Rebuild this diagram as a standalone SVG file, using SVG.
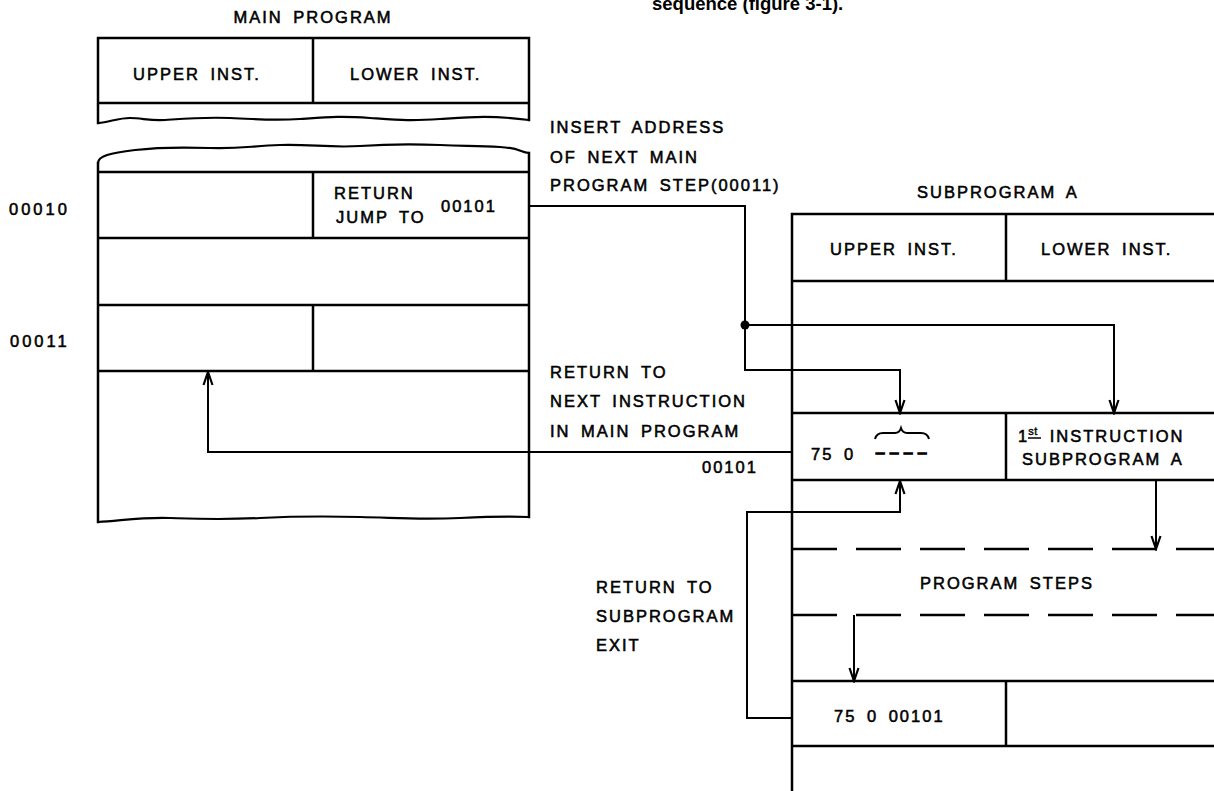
<svg xmlns="http://www.w3.org/2000/svg" width="1214" height="791" viewBox="0 0 1214 791">
<style>
  .t { font-family: "Liberation Sans", Arial, sans-serif; font-size: 16.5px; letter-spacing: 2px; word-spacing: 4px; fill: #000; stroke: #000; stroke-width: 0.55px; }
  .sup { font-family: "Liberation Sans", Arial, sans-serif; font-size: 11px; letter-spacing: 0.5px; fill: #000; stroke: #000; stroke-width: 0.4px; }
  .hdr { font-family: "Liberation Sans", Arial, sans-serif; font-size: 18.5px; font-weight: bold; fill: #000; }
  .box { fill: none; stroke: #000; stroke-width: 2.5; stroke-linecap: square; }
  .wave { fill: none; stroke: #000; stroke-width: 2.2; stroke-linejoin: round; }
  .dash { fill: none; stroke: #000; stroke-width: 2.5; stroke-dasharray: 45 19; }
  .con { fill: none; stroke: #000; stroke-width: 2; stroke-linejoin: miter; }
</style>
<defs>
  <marker id="ah" viewBox="-16 -8 18 16" markerWidth="18" markerHeight="16" refX="0" refY="0" orient="auto" markerUnits="userSpaceOnUse">
    <path d="M -13 -4.5 L 0 0 L -13 4.5" fill="none" stroke="#000" stroke-width="2.2"/>
  </marker>
</defs>
<rect width="1214" height="791" fill="#fff"/>

<text class="hdr" x="652" y="10">sequence (figure 3-1).</text>

<g id="main-program">
  <text class="t" x="313" y="23" text-anchor="middle">MAIN PROGRAM</text>
  <path class="box" d="M 98 38 H 529 V 120 M 98 38 V 123 M 98 103 H 529 M 313 38 V 103"/>
  <path class="wave" d="M 98 123 C 110 122, 118 118, 130 118 S 150 121, 165 120 S 200 117, 230 118 S 270 121, 300 119 S 340 116, 370 118 S 410 121, 440 119 S 490 115, 529 120"/>
  <text class="t" x="133" y="80">UPPER INST.</text>
  <text class="t" x="350" y="80">LOWER INST.</text>
  <path class="wave" d="M 98 163 C 98 156, 110 153, 135 150 S 180 147, 210 148 S 250 146, 280 145 S 330 148, 360 146 S 410 144, 440 145 S 480 146, 500 147 S 520 152, 529 153"/>
  <path class="box" d="M 98 163 V 522 M 529 153 V 517 M 98 172 H 529 M 98 238 H 529 M 98 305 H 529 M 98 371 H 529 M 313 172 V 238 M 313 305 V 371"/>
  <path class="wave" d="M 98 522 C 120 521, 140 517, 170 518 S 220 520, 260 518 S 320 516, 360 517 S 420 520, 460 518 S 510 516, 529 517"/>
  <text class="t" x="334" y="199">RETURN</text>
  <text class="t" x="336" y="223">JUMP TO</text>
  <text class="t" x="441" y="212">00101</text>
</g>

<g id="address-labels">
  <text class="t" x="9" y="215" style="letter-spacing:3px">00010</text>
  <text class="t" x="10" y="347" style="letter-spacing:3px">00011</text>
</g>

<g id="subprogram-a">
  <text class="t" x="917" y="198">SUBPROGRAM A</text>
  <path class="box" d="M 792 214 H 1216 M 792 214 V 793 M 792 281 H 1216 M 792 413 H 1216 M 792 480 H 1216 M 792 681 H 1216 M 792 746 H 1216 M 1006 214 V 281 M 1006 413 V 480 M 1006 681 V 746"/>
  <path class="dash" d="M 792 549 H 1216 M 792 615 H 1216"/>
  <text class="t" x="830" y="255">UPPER INST.</text>
  <text class="t" x="1041" y="255">LOWER INST.</text>
  <text class="t" x="811" y="460">75 0</text>
  <text class="t" x="875" y="458" textLength="56" lengthAdjust="spacingAndGlyphs" style="stroke-width:1.2px">----</text>
  <path d="M 875 439 C 876 435, 878 433, 883 433 L 895 433 C 898 433, 900 431, 901 428 C 902 431, 904 433, 907 433 L 921 433 C 926 433, 928 435, 929 439" fill="none" stroke="#000" stroke-width="2"/>
  <text class="t" x="1018" y="442">1<tspan class="sup" dy="-7" dx="-1">st</tspan><tspan dy="7" dx="12">INSTRUCTION</tspan></text>
  <line x1="1028" y1="438" x2="1041" y2="438" stroke="#000" stroke-width="1.5"/>
  <text class="t" x="1022" y="465">SUBPROGRAM A</text>
  <text class="t" x="920" y="589">PROGRAM STEPS</text>
  <text class="t" x="834" y="722">75 0 00101</text>
</g>

<g id="annotations">
  <text class="t" x="550" y="133">INSERT ADDRESS</text>
  <text class="t" x="550" y="163">OF NEXT MAIN</text>
  <text class="t" x="550" y="191">PROGRAM STEP(00011)</text>
  <text class="t" x="550" y="378">RETURN TO</text>
  <text class="t" x="550" y="407">NEXT INSTRUCTION</text>
  <text class="t" x="550" y="437">IN MAIN PROGRAM</text>
  <text class="t" x="702" y="473">00101</text>
  <text class="t" x="596" y="593">RETURN TO</text>
  <text class="t" x="596" y="622">SUBPROGRAM</text>
  <text class="t" x="596" y="651">EXIT</text>
</g>

<g id="connectors">
  <path class="con" d="M 529 206 H 745 V 370 H 900 V 413" marker-end="url(#ah)"/>
  <path class="con" d="M 745 325 H 1114 V 413" marker-end="url(#ah)"/>
  <circle cx="745" cy="325" r="4.5" fill="#000"/>
  <path class="con" d="M 792 452 H 208 V 372" marker-end="url(#ah)"/>
  <path class="con" d="M 1156 480 V 549" marker-end="url(#ah)"/>
  <path class="con" d="M 854 615 V 681" marker-end="url(#ah)"/>
  <path class="con" d="M 792 718 H 747 V 512 H 900 V 481" marker-end="url(#ah)"/>
</g>
</svg>
